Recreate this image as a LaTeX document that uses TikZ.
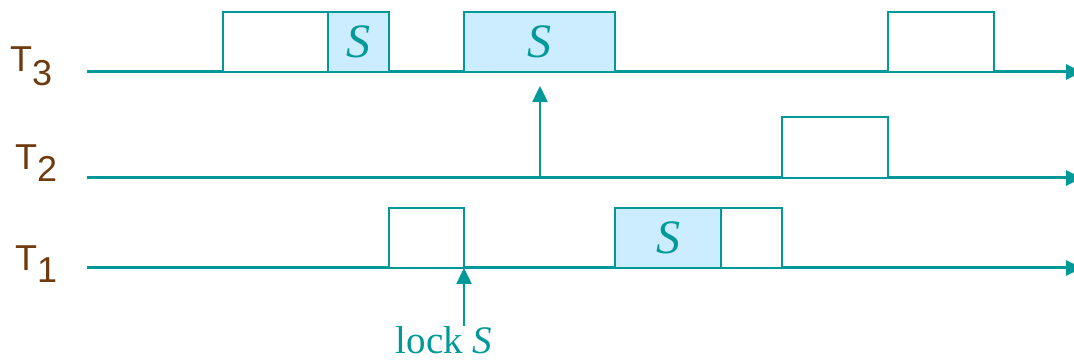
\documentclass[tikz,border=0pt]{standalone}
\usepackage{fontspec}
\setmainfont{Liberation Serif}
\newfontfamily\lblfont{Liberation Sans}
\usetikzlibrary{arrows.meta}
\definecolor{teal1}{RGB}{0,153,153}
\definecolor{lblue}{RGB}{204,236,255}
\definecolor{brn}{RGB}{110,58,14}
\tikzset{
  tl/.style={draw=teal1, line width=3pt, -{Triangle[length=16pt,width=15pt]}},
  box/.style={draw=teal1, line width=2pt, rectangle, inner sep=0pt, outer sep=0pt, anchor=south west, minimum height=60pt, fill=white},
  sbox/.style={box, fill=lblue, text=teal1, font=\fontsize{48}{48}\selectfont\itshape},
  lbl/.style={text=brn, font=\lblfont\fontsize{36}{36}\selectfont, inner sep=0pt, anchor=base west},
  up/.style={draw=teal1, line width=2.5pt, -{Triangle[length=16pt,width=15pt]}},
}
\begin{document}
\begin{tikzpicture}[x=1pt,y=-1pt]
\useasboundingbox (0,0) rectangle (1074,363);
\clip (0,0) rectangle (1074,363);
% timelines
\coordinate (s3) at (87,72);  \coordinate (e3) at (1082,72);
\coordinate (s2) at (87,178); \coordinate (e2) at (1082,178);
\coordinate (s1) at (87,268); \coordinate (e1) at (1082,268);
\draw[tl] (s3) -- (e3);
\draw[tl] (s2) -- (e2);
\draw[tl] (s1) -- (e1);
% T3 boxes
\node[box, minimum width=105pt] (a3) at (223,72) {};
\node[sbox, minimum width=61pt] (b3) at (328,72) {S};
\node[sbox, minimum width=151pt] (c3) at (464,72) {S};
\node[box, minimum width=106pt] (d3) at (888,72) {};
% T2
\node[box, minimum width=106pt, minimum height=61pt] (a2) at (782,178) {};
% T1
\node[box, minimum width=75pt] (a1) at (389,268) {};
\node[sbox, minimum width=106pt] (b1) at (615,268) {S};
\node[box, minimum width=61pt] (c1) at (721,268) {};
% labels
\node[lbl] (L3) at (10,72) {T\raisebox{-14pt}{3}};
\node[lbl] (L2) at (15,170) {T\raisebox{-12pt}{2}};
\node[lbl] (L1) at (15,271) {T\raisebox{-12pt}{1}};
% arrows
\coordinate (p2) at (540,178);
\coordinate (p3) at (540,86);
\draw[up] (p2) -- (p3);
\node[text=teal1, font=\fontsize{39}{39}\selectfont, anchor=base, inner sep=0pt] (lk) at (444,354) {lock \textit{S}};
\coordinate (q1) at (464,268);
\draw[up] (464,326) coordinate (q0) -- (q1);
\end{tikzpicture}
\end{document}
